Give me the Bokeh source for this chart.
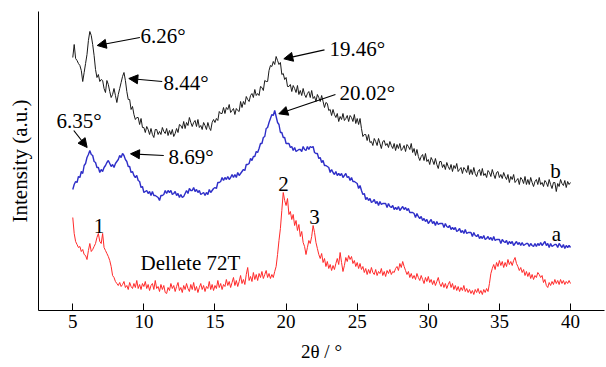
from bokeh.plotting import figure
from bokeh.models import Range1d, Label, Arrow, NormalHead, FixedTicker
from bokeh.embed import file_html
from bokeh.resources import INLINE

# 2theta sampling grid (degrees)
two_theta = [
    5.0, 5.1, 5.2, 5.3, 5.4, 5.5, 5.6, 5.7, 5.8, 5.9,
    6.0, 6.1, 6.2, 6.3, 6.4, 6.5, 6.6, 6.7, 6.8, 6.9,
    7.0, 7.1, 7.2, 7.3, 7.4, 7.5, 7.6, 7.7, 7.8, 7.9,
    8.0, 8.1, 8.2, 8.3, 8.4, 8.5, 8.6, 8.7, 8.8, 8.9,
    9.0, 9.1, 9.2, 9.3, 9.4, 9.5, 9.6, 9.7, 9.8, 9.9,
    10.0, 10.1, 10.2, 10.3, 10.4, 10.5, 10.6, 10.7, 10.8, 10.9,
    11.0, 11.1, 11.2, 11.3, 11.4, 11.5, 11.6, 11.7, 11.8, 11.9,
    12.0, 12.1, 12.2, 12.3, 12.4, 12.5, 12.6, 12.7, 12.8, 12.9,
    13.0, 13.1, 13.2, 13.3, 13.4, 13.5, 13.6, 13.7, 13.8, 13.9,
    14.0, 14.1, 14.2, 14.3, 14.4, 14.5, 14.6, 14.7, 14.8, 14.9,
    15.0, 15.1, 15.2, 15.3, 15.4, 15.5, 15.6, 15.7, 15.8, 15.9,
    16.0, 16.1, 16.2, 16.3, 16.4, 16.5, 16.6, 16.7, 16.8, 16.9,
    17.0, 17.1, 17.2, 17.3, 17.4, 17.5, 17.6, 17.7, 17.8, 17.9,
    18.0, 18.1, 18.2, 18.3, 18.4, 18.5, 18.6, 18.7, 18.8, 18.9,
    19.0, 19.1, 19.2, 19.3, 19.4, 19.5, 19.6, 19.7, 19.8, 19.9,
    20.0, 20.1, 20.2, 20.3, 20.4, 20.5, 20.6, 20.7, 20.8, 20.9,
    21.0, 21.1, 21.2, 21.3, 21.4, 21.5, 21.6, 21.7, 21.8, 21.9,
    22.0, 22.1, 22.2, 22.3, 22.4, 22.5, 22.6, 22.7, 22.8, 22.9,
    23.0, 23.1, 23.2, 23.3, 23.4, 23.5, 23.6, 23.7, 23.8, 23.9,
    24.0, 24.1, 24.2, 24.3, 24.4, 24.5, 24.6, 24.7, 24.8, 24.9,
    25.0, 25.1, 25.2, 25.3, 25.4, 25.5, 25.6, 25.7, 25.8, 25.9,
    26.0, 26.1, 26.2, 26.3, 26.4, 26.5, 26.6, 26.7, 26.8, 26.9,
    27.0, 27.1, 27.2, 27.3, 27.4, 27.5, 27.6, 27.7, 27.8, 27.9,
    28.0, 28.1, 28.2, 28.3, 28.4, 28.5, 28.6, 28.7, 28.8, 28.9,
    29.0, 29.1, 29.2, 29.3, 29.4, 29.5, 29.6, 29.7, 29.8, 29.9,
    30.0, 30.1, 30.2, 30.3, 30.4, 30.5, 30.6, 30.7, 30.8, 30.9,
    31.0, 31.1, 31.2, 31.3, 31.4, 31.5, 31.6, 31.7, 31.8, 31.9,
    32.0, 32.1, 32.2, 32.3, 32.4, 32.5, 32.6, 32.7, 32.8, 32.9,
    33.0, 33.1, 33.2, 33.3, 33.4, 33.5, 33.6, 33.7, 33.8, 33.9,
    34.0, 34.1, 34.2, 34.3, 34.4, 34.5, 34.6, 34.7, 34.8, 34.9,
    35.0, 35.1, 35.2, 35.3, 35.4, 35.5, 35.6, 35.7, 35.8, 35.9,
    36.0, 36.1, 36.2, 36.3, 36.4, 36.5, 36.6, 36.7, 36.8, 36.9,
    37.0, 37.1, 37.2, 37.3, 37.4, 37.5, 37.6, 37.7, 37.8, 37.9,
    38.0, 38.1, 38.2, 38.3, 38.4, 38.5, 38.6, 38.7, 38.8, 38.9,
    39.0, 39.1, 39.2, 39.3, 39.4, 39.5, 39.6, 39.7, 39.8, 39.9,
    40.0,
]

# curve b (black, top)
intensity_b = [
    253, 266, 252, 250, 247, 245, 240, 229, 238, 247,
    256, 270, 279, 275, 266, 255, 241, 233, 236, 229,
    231, 230, 222, 218, 230, 226, 219, 213, 216, 222,
    215, 208, 216, 222, 228, 234, 238, 230, 219, 211,
    211, 201, 204, 196, 191, 193, 193, 186, 192, 183,
    183, 178, 184, 181, 176, 182, 176, 173, 181, 181,
    176, 179, 176, 183, 179, 177, 182, 175, 180, 176,
    181, 174, 177, 182, 178, 186, 185, 182, 189, 182,
    188, 185, 193, 188, 184, 188, 190, 184, 191, 183,
    185, 181, 188, 185, 181, 188, 183, 180, 188, 191,
    188, 192, 190, 199, 197, 197, 203, 197, 203, 201,
    206, 198, 200, 202, 196, 202, 200, 199, 209, 203,
    209, 206, 214, 211, 209, 215, 217, 213, 221, 215,
    217, 215, 224, 223, 220, 230, 229, 229, 240, 245,
    244, 249, 246, 254, 250, 246, 248, 236, 237, 231,
    233, 224, 224, 226, 219, 225, 222, 218, 225, 216,
    220, 215, 222, 216, 213, 217, 219, 213, 220, 212,
    214, 209, 216, 213, 209, 215, 209, 203, 208, 207,
    200, 201, 195, 201, 196, 193, 197, 189, 194, 191,
    197, 190, 192, 195, 189, 195, 193, 189, 196, 187,
    192, 186, 192, 182, 174, 176, 176, 170, 176, 168,
    169, 165, 172, 169, 165, 172, 167, 162, 169, 170,
    165, 167, 163, 169, 165, 162, 167, 160, 166, 162,
    167, 160, 162, 165, 159, 166, 164, 161, 167, 158,
    162, 155, 161, 154, 150, 154, 156, 150, 157, 149,
    151, 146, 153, 150, 146, 152, 146, 142, 149, 149,
    143, 146, 141, 148, 144, 141, 146, 139, 145, 142,
    147, 139, 141, 143, 137, 143, 141, 138, 145, 136,
    141, 136, 143, 137, 134, 139, 141, 135, 142, 135,
    137, 133, 140, 138, 134, 141, 136, 132, 138, 139,
    133, 136, 132, 138, 134, 131, 136, 128, 134, 131,
    136, 128, 130, 132, 126, 133, 131, 127, 134, 126,
    131, 126, 133, 128, 124, 129, 131, 126, 133, 126,
    128, 124, 130, 128, 124, 131, 126, 122, 128, 128,
    119, 127, 124, 131, 127, 125, 130, 123, 129, 126,
    128,
]

# curve a (blue, middle)
intensity_a = [
    121, 126, 129, 128, 134, 133, 139, 137, 145, 147,
    153, 156, 160, 156, 155, 149, 148, 143, 143, 138,
    141, 139, 143, 145, 148, 150, 147, 144, 146, 143,
    147, 149, 151, 155, 153, 157, 155, 151, 149, 144,
    144, 138, 139, 135, 133, 135, 130, 129, 123, 124,
    118, 119, 120, 117, 119, 115, 119, 115, 115, 114,
    113, 110, 115, 115, 116, 120, 117, 120, 118, 120,
    116, 117, 119, 115, 117, 113, 116, 113, 114, 117,
    120, 117, 122, 120, 120, 123, 119, 121, 118, 120,
    116, 117, 118, 115, 118, 116, 121, 118, 120, 122,
    123, 122, 128, 128, 129, 133, 130, 133, 131, 134,
    131, 133, 136, 133, 136, 133, 138, 135, 137, 139,
    141, 140, 146, 146, 147, 152, 150, 154, 154, 159,
    158, 162, 167, 167, 173, 174, 182, 183, 188, 192,
    196, 195, 200, 194, 188, 186, 178, 178, 173, 173,
    167, 167, 167, 163, 164, 160, 163, 159, 160, 161,
    161, 159, 164, 161, 160, 164, 161, 164, 163, 164,
    158, 157, 157, 152, 153, 148, 150, 145, 145, 144,
    143, 138, 141, 138, 136, 139, 135, 137, 135, 137,
    133, 135, 137, 133, 134, 130, 133, 129, 129, 128,
    127, 122, 125, 120, 116, 117, 111, 113, 110, 112,
    108, 109, 111, 107, 109, 105, 109, 106, 107, 107,
    107, 103, 107, 104, 103, 105, 101, 103, 101, 104,
    100, 102, 104, 101, 103, 100, 102, 98, 98, 98,
    97, 93, 97, 94, 92, 94, 90, 92, 89, 91,
    87, 89, 91, 87, 89, 85, 89, 86, 87, 87,
    87, 83, 87, 84, 83, 85, 81, 83, 81, 83,
    79, 80, 82, 78, 80, 77, 81, 77, 78, 78,
    78, 74, 78, 75, 74, 76, 72, 74, 72, 75,
    71, 72, 74, 71, 73, 70, 74, 70, 71, 71,
    71, 67, 71, 69, 68, 70, 66, 69, 67, 69,
    65, 67, 69, 66, 68, 65, 68, 65, 66, 67,
    67, 64, 67, 65, 64, 67, 64, 67, 65, 68,
    65, 67, 69, 65, 67, 63, 67, 64, 65, 66,
    66, 63, 67, 65, 63, 66, 62, 65, 63, 65,
    63,
]

# Dellete 72T (red, bottom)
intensity_dellete = [
    93, 77, 69, 66, 63, 64, 59, 61, 56, 55,
    51, 60, 67, 59, 61, 64, 67, 73, 77, 69,
    67, 77, 63, 60, 57, 54, 50, 44, 35, 33,
    29, 27, 25, 28, 24, 26, 29, 23, 25, 21,
    28, 24, 22, 27, 23, 30, 22, 26, 21, 27,
    24, 29, 22, 26, 20, 25, 27, 21, 30, 22,
    24, 19, 26, 21, 25, 18, 17, 23, 20, 27,
    22, 25, 19, 24, 28, 20, 23, 18, 25, 21,
    27, 22, 19, 26, 21, 28, 20, 24, 18, 23,
    27, 21, 25, 19, 24, 22, 29, 21, 26, 20,
    25, 22, 30, 23, 27, 21, 26, 24, 31, 25,
    29, 23, 28, 33, 25, 30, 24, 29, 35, 27,
    31, 26, 36, 43, 30, 34, 29, 38, 31, 36,
    30, 37, 33, 39, 32, 36, 40, 33, 37, 32,
    36, 33, 39, 44, 56, 70, 82, 100, 118, 110,
    105, 112, 96, 99, 91, 96, 85, 90, 80, 86,
    74, 79, 68, 64, 56, 63, 70, 67, 74, 85,
    78, 68, 62, 56, 52, 57, 48, 52, 44, 49,
    42, 46, 40, 45, 41, 47, 52, 46, 58, 48,
    39, 45, 53, 49, 55, 51, 54, 47, 50, 44,
    48, 42, 47, 41, 44, 38, 42, 36, 41, 37,
    43, 38, 36, 41, 35, 39, 37, 42, 35, 39,
    34, 40, 37, 41, 36, 39, 38, 42, 44, 40,
    47, 43, 49, 44, 40, 36, 39, 33, 37, 32,
    35, 31, 37, 33, 30, 35, 31, 27, 33, 29,
    34, 28, 31, 26, 30, 25, 29, 33, 27, 24,
    28, 23, 27, 22, 26, 29, 23, 27, 21, 25,
    20, 24, 19, 23, 20, 25, 19, 22, 18, 21,
    17, 20, 16, 21, 18, 22, 17, 20, 16, 21,
    18, 22, 19, 27, 37, 42, 46, 41, 48, 44,
    50, 45, 49, 43, 48, 44, 51, 46, 49, 45,
    50, 53, 47, 44, 40, 43, 38, 41, 35, 39,
    34, 38, 32, 36, 31, 35, 33, 38, 36, 33,
    35, 28, 31, 25, 23, 28, 25, 29, 26, 31,
    27, 30, 26, 31, 27, 30, 26, 29, 27, 30,
    27,
]

x_ticks = [5, 10, 15, 20, 25, 30, 35, 40]

FONT = "Liberation Serif"

p = figure(width=605, height=366, output_backend="svg", toolbar_location=None,
           x_range=Range1d(2.59, 42.39), y_range=Range1d(0, 299),
           min_border_left=38, min_border_right=1, min_border_top=11,
           min_border_bottom=56)
p.outline_line_color = None
p.grid.visible = False
p.background_fill_color = "white"
p.border_fill_color = "white"

p.xaxis.ticker = FixedTicker(ticks=x_ticks)
p.xaxis.major_tick_in = 7
p.xaxis.major_tick_out = 0
p.xaxis.minor_tick_line_color = None
p.xaxis.major_label_text_font = FONT
p.xaxis.major_label_text_font_size = "19px"
p.xaxis.major_label_text_color = "black"
p.xaxis.major_label_standoff = 4
p.xaxis.axis_label = "2θ / °"
p.xaxis.axis_label_text_font = FONT
p.xaxis.axis_label_text_font_size = "19px"
p.xaxis.axis_label_text_font_style = "normal"
p.xaxis.axis_label_text_color = "black"
p.xaxis.axis_label_standoff = 10
p.xaxis.axis_line_color = "black"
p.xaxis.major_tick_line_color = "black"

p.yaxis.ticker = FixedTicker(ticks=[])
p.yaxis.major_tick_line_color = None
p.yaxis.minor_tick_line_color = None
p.yaxis.axis_label = "Intensity (a.u.)"
p.yaxis.axis_label_text_font = FONT
p.yaxis.axis_label_text_font_size = "21px"
p.yaxis.axis_label_text_font_style = "normal"
p.yaxis.axis_label_text_color = "black"
p.yaxis.axis_label_standoff = 7
p.yaxis.axis_line_color = "black"

p.line(two_theta, intensity_dellete, line_color="#ff2a2a", line_width=1)
p.line(two_theta, intensity_a, line_color="#2e2ec8", line_width=1.4)
p.line(two_theta, intensity_b, line_color="#1a1a1a", line_width=1)

def add_label(x, y, text, align="left", size="21px"):
    p.add_layout(Label(x=x, y=y, text=text, text_font=FONT, text_font_size=size,
                       text_baseline="middle", text_align=align, text_color="black"))

def add_arrow(x0, y0, x1, y1):
    p.add_layout(Arrow(end=NormalHead(size=9, fill_color="black", line_color="black"),
                       x_start=x0, y_start=y0, x_end=x1, y_end=y1,
                       line_color="black", line_width=1.2))

add_label(9.77, 275, "6.26°")
add_arrow(9.72, 273, 6.72, 265)
add_label(11.38, 228, "8.44°")
add_arrow(11.29, 229, 8.94, 232)
add_label(23.05, 262, "19.46°")
add_arrow(22.70, 260.7, 19.84, 251.7)
add_label(23.75, 218, "20.02°")
add_arrow(23.47, 216, 19.49, 196.7)
add_label(3.85, 190, "6.35°")
add_arrow(5.07, 180, 6.01, 163)
add_label(11.73, 154, "8.69°")
add_arrow(11.40, 155, 9.06, 156.7)
add_label(38.94, 140, "b", align="center")
add_label(39.01, 77, "a", align="center")
add_label(6.84, 85, "1", align="center")
add_label(19.82, 127, "2", align="center")
add_label(22.0, 94, "3", align="center")
add_label(9.77, 48, "Dellete 72T")

open("out.html", "w").write(file_html(p, INLINE))
